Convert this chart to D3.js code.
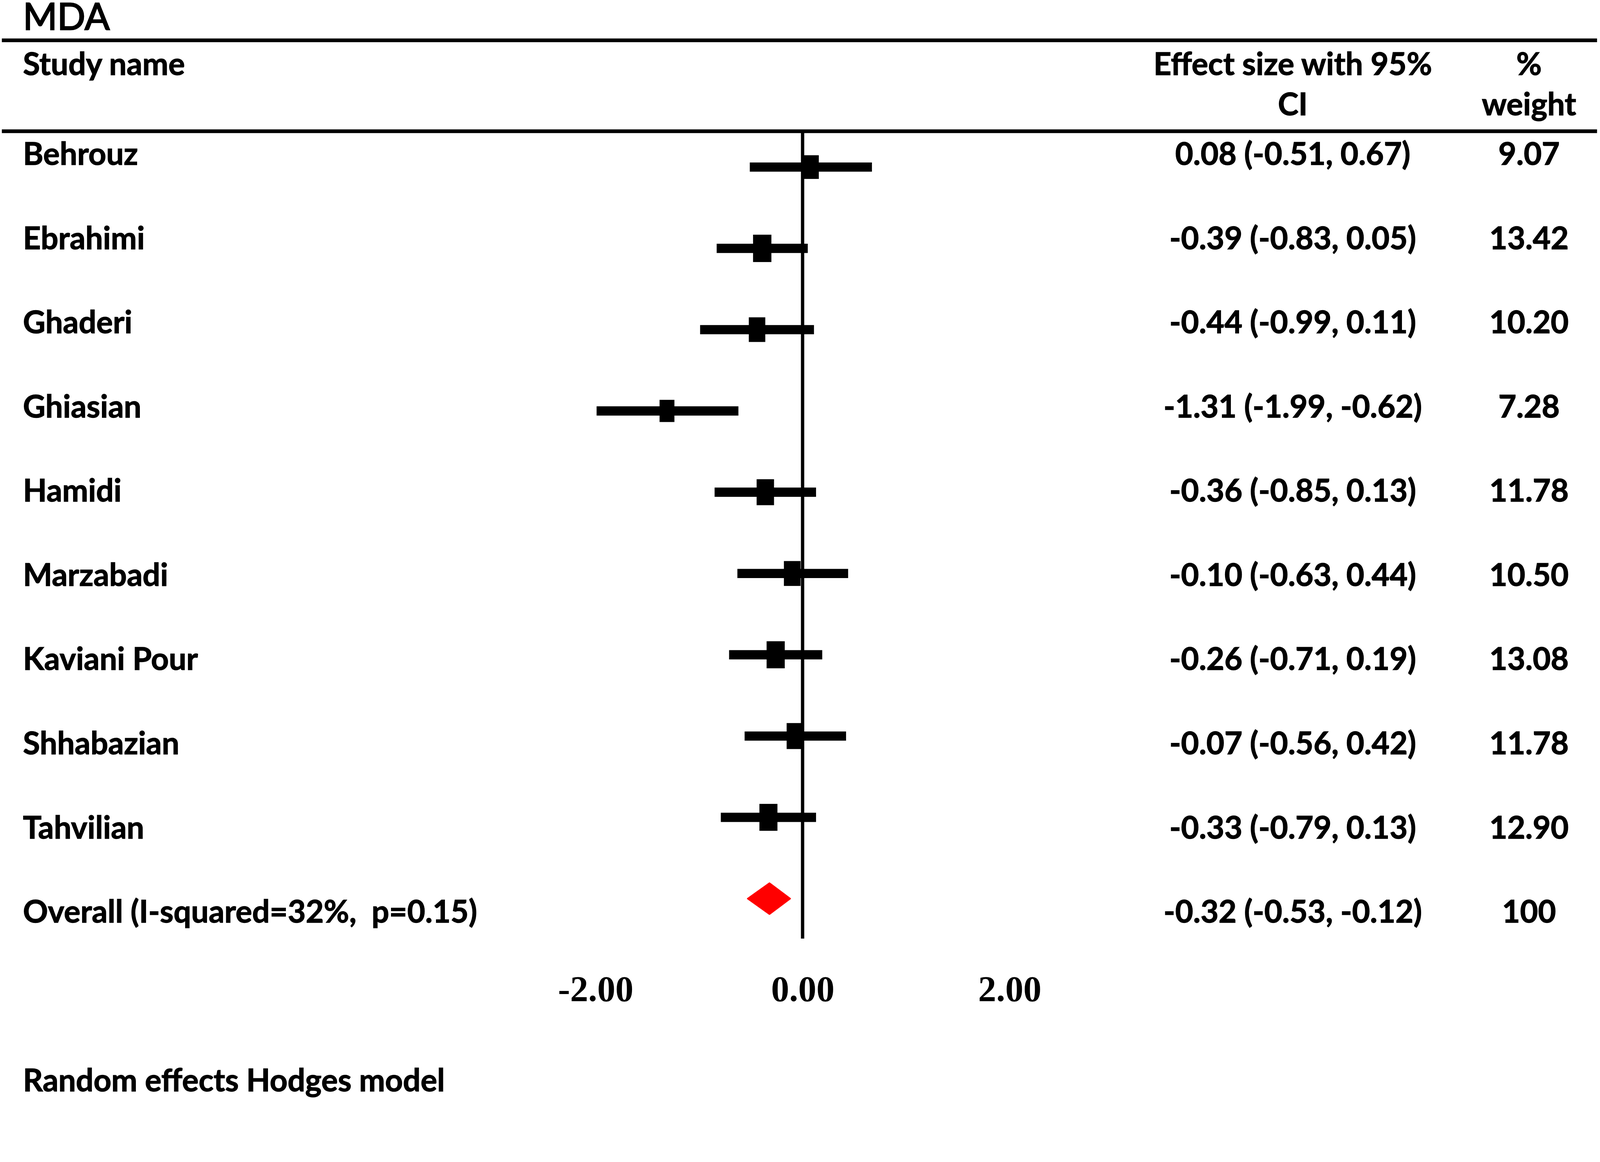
<!DOCTYPE html>
<html>
<head>
<meta charset="utf-8">
<script src="https://cdn.jsdelivr.net/npm/d3@7"></script>
<style>
  html, body { margin: 0; padding: 0; background: #fff; overflow: hidden; }
  svg { display: block; width: 100vw; height: 100vh; }
  text { font-family: Lato, "Open Sans", sans-serif; fill: #000; white-space: pre; }
  .bold { font-weight: 700; stroke: #000; stroke-width: 1.5px; }
  .title { stroke: #000; stroke-width: 3px; }
  .tick text { font-family: "Liberation Serif", "Times New Roman", serif; font-weight: 700; }
</style>
</head>
<body>
<svg viewBox="0 0 4328 2975" preserveAspectRatio="xMinYMin meet"></svg>
<script>
// study rows
const studies = ["Behrouz", "Ebrahimi", "Ghaderi", "Ghiasian", "Hamidi", "Marzabadi", "Kaviani Pour", "Shhabazian", "Tahvilian"];
const effects = [0.08, -0.39, -0.44, -1.31, -0.36, -0.10, -0.26, -0.07, -0.33];
const lower   = [-0.51, -0.83, -0.99, -1.99, -0.85, -0.63, -0.71, -0.56, -0.79];
const upper   = [0.67, 0.05, 0.11, -0.62, 0.13, 0.44, 0.19, 0.42, 0.13];
const weights = [9.07, 13.42, 10.20, 7.28, 11.78, 10.50, 13.08, 11.78, 12.90];

// pooled estimate
const overallLabel = "Overall (I-squared=32%,  p=0.15)";
const overall = { effect: -0.32, lower: -0.53, upper: -0.12, weight: "100" };

const axisTicks = [-2, 0, 2];

const svg = d3.select("svg");

const fmt = v => v.toFixed(2);
const ciText = (e, l, u) => `${fmt(e)} (${fmt(l)}, ${fmt(u)})`;

const x = d3.scaleLinear().domain([-2, 2]).range([1611, 2731]);
const yText = d3.scaleLinear().domain([0, studies.length]).range([446, 2496]);
const yPlot = d3.scaleLinear().domain([0, studies.length]).range([452, 2431]);
const boxH = d3.scaleLinear().domain([7.28, 13.42]).range([60, 74]);

const colEffect = 3497;
const colWeight = 4136;
const ruleTop = 109, ruleHead = 355;

// title and rules
svg.append("text").attr("class", "title").attr("x", 62).attr("y", 80)
  .style("font-size", "100px").text("MDA");

svg.selectAll("line.rule")
  .data([ruleTop, ruleHead])
  .enter().append("line")
  .attr("class", "rule")
  .attr("x1", 5).attr("x2", 4320)
  .attr("y1", d => d).attr("y2", d => d)
  .attr("stroke", "#000").attr("stroke-width", 10);

// header
const header = svg.append("g").attr("class", "bold").style("font-size", "84px");
header.append("text").attr("x", 62).attr("y", 203).text("Study name");
header.append("text").attr("x", colEffect).attr("y", 203).attr("text-anchor", "middle").text("Effect size with 95%");
header.append("text").attr("x", colEffect).attr("y", 312).attr("text-anchor", "middle").text("CI");
header.append("text").attr("x", colWeight).attr("y", 203).attr("text-anchor", "middle").text("%");
header.append("text").attr("x", colWeight).attr("y", 312).attr("text-anchor", "middle").text("weight");

// table rows
const rows = studies.map((s, i) => ({
  name: s,
  ci: ciText(effects[i], lower[i], upper[i]),
  w: fmt(weights[i])
}));
rows.push({ name: overallLabel, ci: ciText(overall.effect, overall.lower, overall.upper), w: overall.weight });

const table = svg.append("g").attr("class", "bold").style("font-size", "84px");
const row = table.selectAll("g")
  .data(rows)
  .enter().append("g")
  .attr("transform", (d, i) => `translate(0,${yText(i)})`);
row.append("text").attr("x", 62).text(d => d.name);
row.append("text").attr("x", colEffect).attr("text-anchor", "middle").text(d => d.ci);
row.append("text").attr("x", colWeight).attr("text-anchor", "middle").text(d => d.w);

// null line
svg.append("line")
  .attr("x1", x(0)).attr("x2", x(0))
  .attr("y1", ruleHead).attr("y2", 2539)
  .attr("stroke", "#000").attr("stroke-width", 9);

// CI bars and boxes
svg.selectAll("line.ci")
  .data(studies)
  .enter().append("line")
  .attr("class", "ci")
  .attr("x1", (d, i) => x(lower[i]))
  .attr("x2", (d, i) => x(upper[i]))
  .attr("y1", (d, i) => yPlot(i))
  .attr("y2", (d, i) => yPlot(i))
  .attr("stroke", "#000").attr("stroke-width", 25);

svg.selectAll("rect.box")
  .data(studies)
  .enter().append("rect")
  .attr("class", "box")
  .attr("width", (d, i) => boxH(weights[i]) * 0.67)
  .attr("height", (d, i) => boxH(weights[i]))
  .attr("x", (d, i) => x(effects[i]) - boxH(weights[i]) * 0.335)
  .attr("y", (d, i) => yPlot(i) - boxH(weights[i]) / 2)
  .attr("fill", "#000");

// pooled diamond
const yo = yPlot(studies.length);
svg.append("path")
  .attr("d", `M${x(overall.lower)},${yo} L${x(overall.effect)},${yo - 42} L${x(overall.upper)},${yo} L${x(overall.effect)},${yo + 42} Z`)
  .attr("fill", "#ff0000")
  .attr("stroke", "#ff0000").attr("stroke-width", 4).attr("stroke-linejoin", "round");

// axis labels only
const axis = svg.append("g")
  .attr("transform", "translate(0,2640)")
  .call(d3.axisBottom(x).tickValues(axisTicks).tickSize(0).tickPadding(0).tickFormat(fmt));
axis.select(".domain").remove();
axis.selectAll(".tick text").attr("dy", "0.7em").style("font-size", "98px").attr("fill", "#000");

// footer
svg.append("text").attr("class", "bold").attr("x", 62).attr("y", 2952)
  .style("font-size", "84px").text("Random effects Hodges model");
</script>
</body>
</html>
